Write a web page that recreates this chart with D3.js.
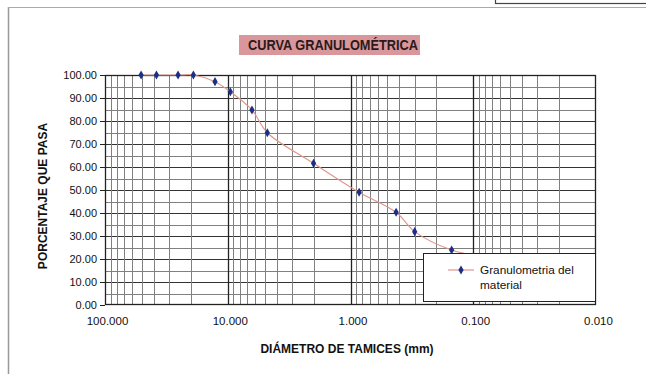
<!DOCTYPE html>
<html><head><meta charset="utf-8">
<script src="https://cdn.jsdelivr.net/npm/d3@7"></script>
<style>
html,body{margin:0;padding:0;background:#fff;}
svg{display:block;}
</style></head>
<body>
<svg id="c" width="646" height="374"></svg>
<script>
// ---- data ----
const sieveSizes = [50.8, 38.1, 25.4, 19.05, 12.7, 9.525, 6.35, 4.76, 2.0, 0.85, 0.425, 0.3, 0.15, 0.075];
const percentPassing = [100, 100, 100, 100, 97.1, 92.7, 84.8, 74.9, 61.6, 49.0, 40.3, 31.9, 23.9, 20.5];
const xTickValues = [100, 10, 1, 0.1, 0.01];
const xTickLabels = ["100.000", "10.000", "1.000", "0.100", "0.010"];
const yTickValues = [0, 10, 20, 30, 40, 50, 60, 70, 80, 90, 100];
const seriesName = ["Granulometria del", "material"];
const chartTitle = "CURVA GRANULOMÉTRICA";
const xTitle = "DIÁMETRO DE TAMICES (mm)";
const yTitle = "PORCENTAJE QUE PASA";

const svg = d3.select("#c");
const sans = "'Liberation Sans',Arial,sans-serif";

// page frame
svg.append("line").attr("x1",8.5).attr("x2",8.5).attr("y1",7).attr("y2",374).attr("stroke","#999").attr("stroke-width",1.5);
svg.append("line").attr("x1",8).attr("x2",646).attr("y1",7.5).attr("y2",7.5).attr("stroke","#aaa").attr("stroke-width",1);
svg.append("rect").attr("x",495.5).attr("y",-3).attr("width",160).attr("height",6.5).attr("fill","none").attr("stroke","#444").attr("stroke-width",1.2);

const L = 105, R = 596, T = 75, B = 305;
const x = d3.scaleLog().domain([100, 0.01]).range([L, R]);
const y = d3.scaleLinear().domain([0, 100]).range([B, T]);

const g = svg.append("g");
g.append("rect").attr("x",L).attr("y",T).attr("width",R-L).attr("height",B-T).attr("fill","#fff");

// horizontal gridlines every 5
const hVals = d3.range(5, 100, 5);
g.selectAll(".hg").data(hVals).join("line")
  .attr("x1",L).attr("x2",R)
  .attr("y1",d=>Math.round(y(d))+0.5).attr("y2",d=>Math.round(y(d))+0.5)
  .attr("stroke",d=>d%10===0?"#333":"#808080").attr("stroke-width",1);

// vertical gridlines
const vVals = [];
[100,10,1,0.1].forEach(dec=>{ for(let k=2;k<10;k++){ vVals.push({v:dec/10*k,maj:false}); } });
[10,1,0.1].forEach(v=>vVals.push({v:v,maj:true}));
g.selectAll(".vg").data(vVals).join("line")
  .attr("x1",d=>Math.round(x(d.v))+0.5).attr("x2",d=>Math.round(x(d.v))+0.5)
  .attr("y1",T).attr("y2",B)
  .attr("stroke",d=>d.maj?"#222":"#808080").attr("stroke-width",d=>d.maj?1.3:1);

// border
g.append("rect").attr("x",L+0.5).attr("y",T+0.5).attr("width",R-L-1).attr("height",B-T-1)
  .attr("fill","none").attr("stroke","#222").attr("stroke-width",1.3);

// y axis
const yAxis = d3.axisLeft(y).tickValues(yTickValues).tickSize(5).tickPadding(3).tickFormat(d3.format(".2f"));
const ya = svg.append("g").attr("transform",`translate(${L},0)`).call(yAxis);
ya.select(".domain").remove();
ya.selectAll("line").attr("stroke","#222");
ya.selectAll("text").attr("font-family",sans).attr("font-size",11).attr("fill","#111");

// x axis
const xAxis = d3.axisBottom(x).tickValues(xTickValues).tickSize(0).tickPadding(12)
  .tickFormat((d,i)=>xTickLabels[i]);
const xa = svg.append("g").attr("transform",`translate(2,${B})`).call(xAxis);
xa.select(".domain").remove();
xa.selectAll("text").attr("font-family",sans).attr("font-size",11.5).attr("fill","#111");

// series
const pts = sieveSizes.map((s,i)=>({d:s,p:percentPassing[i]}));
const line = d3.line().x(d=>x(d.d)).y(d=>y(d.p)).curve(d3.curveCatmullRom.alpha(0.5));
svg.append("path").datum(pts).attr("d",line).attr("fill","none").attr("stroke","#e0978c").attr("stroke-width",1.2);
const diamond = d3.symbol().type(d3.symbolDiamond).size(24);
svg.selectAll(".m").data(pts).join("path")
  .attr("transform",d=>`translate(${x(d.d)},${y(d.p)})`)
  .attr("d",diamond).attr("fill","#1c2f86");

// legend
const lg = svg.append("g");
lg.append("rect").attr("x",423.5).attr("y",253.5).attr("width",172).attr("height",48)
  .attr("fill","#fff").attr("stroke","#222").attr("stroke-width",1);
lg.append("line").attr("x1",448).attr("x2",474).attr("y1",270).attr("y2",270).attr("stroke","#e0978c").attr("stroke-width",1.2);
lg.append("path").attr("transform","translate(461,270)").attr("d",diamond).attr("fill","#1c2f86");
lg.append("text").attr("x",480).attr("y",274).attr("font-family",sans).attr("font-size",11.8).attr("fill","#111").text(seriesName[0]);
lg.append("text").attr("x",480).attr("y",289).attr("font-family",sans).attr("font-size",11.8).attr("fill","#111").text(seriesName[1]);

// title
svg.append("rect").attr("x",239).attr("y",35).attr("width",181).attr("height",20).attr("fill","#d9979b");
svg.append("text").attr("x",248).attr("y",50)
  .attr("font-family",sans).attr("font-weight","bold").attr("font-size",14)
  .attr("textLength",170).attr("lengthAdjust","spacingAndGlyphs")
  .attr("fill","#2a1a1a").text(chartTitle);

// axis titles
svg.append("text").attr("x",347).attr("y",353).attr("text-anchor","middle")
  .attr("font-family",sans).attr("font-weight","bold").attr("font-size",12).attr("fill","#111").text(xTitle);
svg.append("text").attr("transform","translate(47,196) rotate(-90)").attr("text-anchor","middle")
  .attr("font-family",sans).attr("font-weight","bold").attr("font-size",12).attr("fill","#111").text(yTitle);
</script>
</body></html>
